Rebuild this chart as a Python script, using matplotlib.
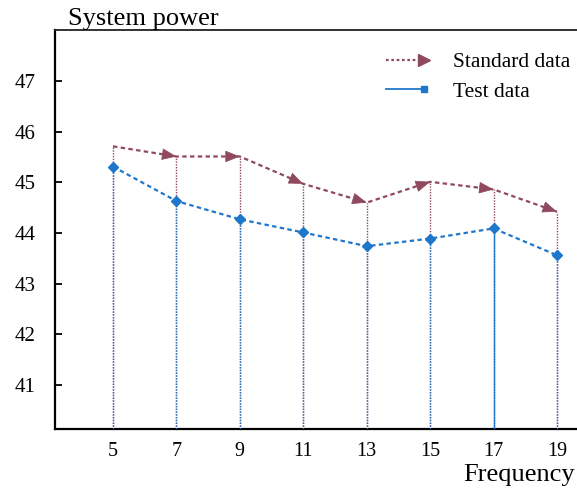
import matplotlib
matplotlib.use("Agg")
import matplotlib.pyplot as plt
from matplotlib.lines import Line2D
from matplotlib.legend_handler import HandlerBase
import numpy as np

plt.rcParams['font.family'] = ['Liberation Serif', 'DejaVu Serif']

frequency = [5, 7, 9, 11, 13, 15, 17, 19]
standard_data = [45.71, 45.51, 45.51, 44.97, 44.60, 45.01, 44.86, 44.42]
test_data = [45.31, 44.63, 44.27, 44.01, 43.74, 43.89, 44.09, 43.56]
y_ticks = [41, 42, 43, 44, 45, 46, 47]

C_STD = '#8f4a5e'
C_TEST = '#1f77cc'

fig = plt.figure(figsize=(5.77, 4.9), dpi=100)
W, H = 577, 490
ax = fig.add_axes([55 / W, (H - 429) / H, (577 - 55) / W, (429 - 30) / H])
ax.set_xlim(3.171, 19.63)
ax.set_ylim(40.132, 48.006)

ymin = ax.get_ylim()[0]

# vertical drop lines
ax.vlines(frequency, ymin, standard_data, colors=C_STD, linestyles=(0, (1, 1)), linewidth=1.0, zorder=2)
vstyles = ['dotted'] * len(frequency)
vstyles[6] = 'solid'
for x, y, ls in zip(frequency, test_data, vstyles):
    ax.vlines(x, ymin, y, colors=C_TEST, linestyles=(0, (1, 1)) if ls == 'dotted' else '-',
              linewidth=1.0, zorder=3)

# standard line
ax.plot(frequency, standard_data, color=C_STD, linestyle=(0, (2, 1.5)), linewidth=1.6, zorder=4)
# arrowheads at each point (except the first)
for i in range(1, len(frequency)):
    p0 = ax.transData.transform((frequency[i - 1], standard_data[i - 1]))
    p1 = ax.transData.transform((frequency[i], standard_data[i]))
    d = p1 - p0
    d = d / np.hypot(*d)
    off = -d * 11  # pixels back
    ax.annotate('', xy=(frequency[i], standard_data[i]),
                xytext=(off[0] * 72 / fig.dpi, off[1] * 72 / fig.dpi), textcoords='offset points',
                arrowprops=dict(arrowstyle='-|>,head_length=0.95,head_width=0.38',
                                color=C_STD, lw=0.5, shrinkA=0, shrinkB=0), zorder=5)

# test line
ax.plot(frequency, test_data, color=C_TEST, linestyle=(0, (2, 1.5)), linewidth=1.6,
        marker='D', markersize=5, zorder=6)

# spines & ticks
for s in ['left', 'bottom']:
    ax.spines[s].set_linewidth(1.6)
    ax.spines[s].set_color('black')
ax.spines['top'].set_linewidth(1.3)
ax.spines['top'].set_color('#222222')
ax.spines['right'].set_visible(False)

ax.set_xticks(frequency)
ax.set_xticklabels([str(f) for f in frequency])
ax.set_yticks(y_ticks)
ax.set_yticklabels([str(t) for t in y_ticks])
ax.tick_params(axis='x', length=0, pad=9, labelsize=14.5)
ax.tick_params(axis='y', direction='in', length=5, width=1.3, pad=14, labelsize=15)

fig.text(68 / W, 1 - 25 / H, 'System power', fontsize=19, ha='left', va='baseline')
fig.text(575 / W, 1 - 481 / H, 'Frequency', fontsize=19, ha='right', va='baseline')


class EndMarkerHandler(HandlerBase):
    def __init__(self, color, ls, lw, marker, ms):
        super().__init__()
        self.color, self.ls, self.lw, self.marker, self.ms = color, ls, lw, marker, ms

    def create_artists(self, legend, orig_handle, xdescent, ydescent, width, height, fontsize, trans):
        y = height / 2 - ydescent
        x0, x1 = -xdescent, width - xdescent
        line = Line2D([x0, x1 - 2], [y, y], color=self.color, linestyle=self.ls, linewidth=self.lw)
        mk = Line2D([x1 - 4], [y], color=self.color, marker=self.marker, markersize=self.ms,
                    linestyle='none')
        line.set_transform(trans)
        mk.set_transform(trans)
        return [line, mk]


h_std = Line2D([], [], color=C_STD)
h_test = Line2D([], [], color=C_TEST)
leg = ax.legend([h_std, h_test], ['Standard data', 'Test data'],
                handler_map={h_std: EndMarkerHandler(C_STD, (0, (1.2, 1.2)), 1.6, '>', 9),
                             h_test: EndMarkerHandler(C_TEST, '-', 1.3, 's', 5)},
                loc='upper left', bbox_to_anchor=((371 - 55) / (577 - 55), 1 - 7 / 399),
                frameon=False, fontsize=15.5, handlelength=2.0, handletextpad=1.1,
                labelspacing=0.45, borderpad=0.2)

fig.savefig('out.png', dpi=100)
